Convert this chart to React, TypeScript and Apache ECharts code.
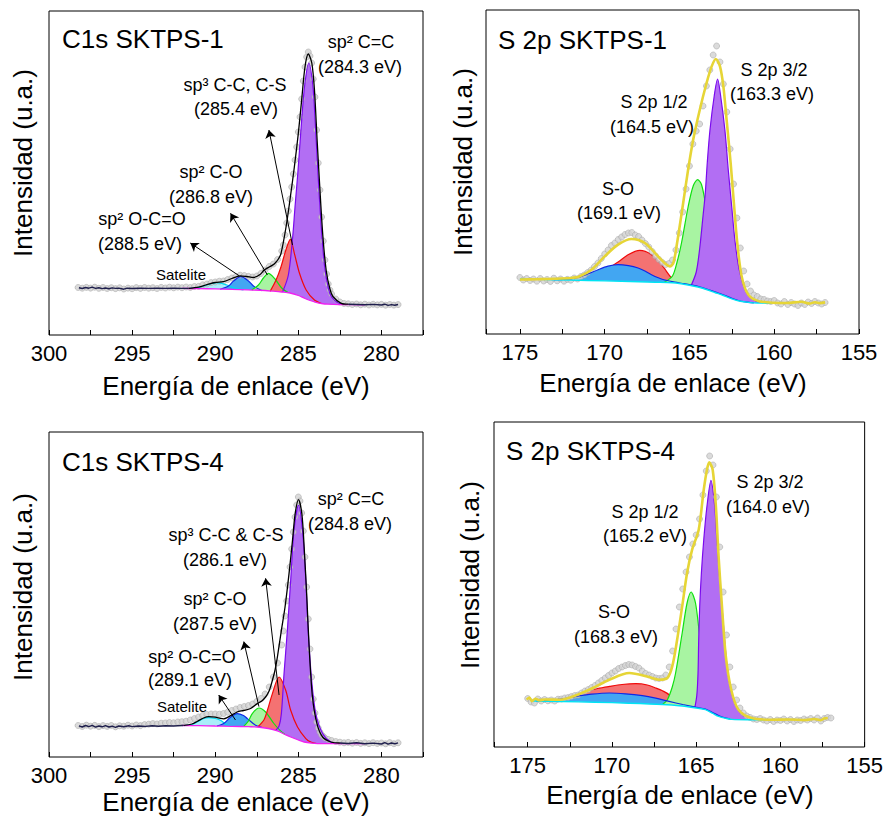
import React, { useEffect, useRef } from "react";
import * as echarts from "echarts";

type Pt = [number, number];

// ---------------- axis ticks ----------------
const C1S_MIN = 277.5;
const C1S_MAX = 300;
const S2P_MIN = 155;
const S2P_MAX = 177;
const TICK_STEP = 2.5;
const LABEL_STEP = 5;

// ---------------- C1s SKTPS-1 ----------------
const C1S1_BG: Pt[] = [[292.0,46.6],[291.0,46.4],[290.0,46.1],[289.0,45.7],[288.0,45.2],[287.0,44.5],[286.5,43.8],[286.0,43.0],[285.5,42.0],[285.0,39.5],[284.6,36.5],[284.2,34.0],[284.0,33.0],[283.6,31.5],[283.2,30.8],[282.5,30.4],[281.0,30.2]];
const C1S1_SAT: Pt[] = [[291.6,46.5],[291.0,47.6],[290.5,50.0],[289.9,52.3],[289.3,50.0],[288.8,46.8],[288.3,45.1]];
const C1S1_BLUE: Pt[] = [[289.7,45.8],[289.2,49.0],[288.9,54.0],[288.46,58.3],[288.0,54.0],[287.7,49.0],[287.2,44.4]];
const C1S1_GREEN: Pt[] = [[287.8,44.9],[287.4,50.0],[287.1,57.0],[286.8,61.7],[286.4,56.0],[286.0,47.0],[285.6,42.2]];
const C1S1_RED: Pt[] = [[286.7,43.6],[286.34,55.0],[286.04,68.3],[285.75,85.0],[285.48,95.7],[285.24,81.7],[284.93,61.7],[284.53,45.0],[284.03,35.0],[283.6,31.5]];
const C1S1_PURPLE: Pt[] = [[285.95,42.9],[285.6,60],[285.34,98],[285.2,128],[285.03,162],[284.83,208],[284.63,248],[284.37,272],[284.13,250],[283.99,215],[283.83,165],[283.63,110],[283.43,70],[283.2,47],[283.0,38],[282.6,32],[282.2,30.5]];
const C1S1_ENV: Pt[] = [[291.6,46.6],[291.0,47.8],[290.5,50.3],[290.0,52.5],[289.5,53.3],[289.0,56.5],[288.5,59.2],[288.1,58.5],[287.7,57.5],[287.3,60.5],[287.05,65.0],[286.75,68.0],[286.45,71.0],[286.2,76.0],[286.04,81.7],[285.74,108],[285.48,138],[285.24,168],[285.0,201.7],[284.8,235],[284.6,268],[284.4,281],[284.19,272],[284.03,245],[283.87,195],[283.7,145],[283.52,98],[283.32,64],[283.1,46],[282.92,38.5],[282.42,31.7],[282.0,30.8]];
const C1S1_RAW_L: Pt[] = [[298.2,47.2],[298.0,46.5],[297.8,47.5],[297.6,46.8],[297.4,47.8],[297.2,46.6],[297.0,47.3],[296.8,46.4],[296.6,47.0],[296.4,46.2],[296.2,47.1],[296.0,46.6],[295.8,46.9],[295.5,45.8],[295.3,46.8],[295.0,46.5],[294.5,46.8],[294.0,46.6],[293.5,46.9],[293.0,46.6],[292.5,46.8],[292.0,46.6],[291.6,46.6]];
const C1S1_RAW_R: Pt[] = [[282.0,30.8],[281.5,30.5],[281.0,30.2],[280.5,30.6],[280.0,30.0],[279.8,30.8],[279.6,29.6],[279.4,30.4],[279.2,29.8],[279.0,30.5]];
const C1S1_DOTS: Pt[] = [[298.25,47.5],[298.0,46.8],[297.75,47.6],[297.5,46.9],[297.25,47.8],[297.0,46.7],[296.75,47.5],[296.5,46.5],[296.25,47.3],[296.0,46.4],[295.75,47.2],[295.5,46.0],[295.25,46.9],[295.0,46.3],[294.75,47.4],[294.5,46.6],[294.25,47.5],[294.0,46.8],[293.75,47.3],[293.5,46.5],[293.25,47.6],[293.0,47.0],[292.75,47.8],[292.5,47.2],[292.25,47.9],[292.0,47.3],[291.75,48.0],[291.5,47.5],[291.25,48.5],[291.0,48.6],[290.75,50.2],[290.5,51.0],[290.25,52.4],[290.0,53.0],[289.75,53.8],[289.5,54.0],[289.25,55.5],[289.0,57.0],[288.75,58.5],[288.5,59.8],[288.25,59.5],[288.0,58.6],[287.75,58.0],[287.5,59.0],[287.25,61.5],[287.0,65.0],[286.75,68.5],[286.5,71.0],[286.25,75.5],[286.0,84.0],[285.9,90],[285.8,100],[285.7,112],[285.6,124],[285.5,136],[285.4,148],[285.3,161],[285.2,175],[285.1,188],[285.0,203],[284.9,218],[284.8,236],[284.7,254],[284.6,268],[284.5,278],[284.4,283],[284.3,279],[284.2,272],[284.1,256],[284.0,238],[283.9,205],[283.8,172],[283.7,145],[283.6,118],[283.5,94],[283.4,75],[283.3,61],[283.2,51],[283.1,45],[283.0,41],[282.75,36],[282.5,33],[282.25,31.5],[282.0,31.2],[281.75,30.5],[281.5,31.0],[281.25,30.2],[281.0,30.8],[280.75,30.0],[280.5,30.7],[280.25,30.1],[280.0,30.6],[279.75,29.8],[279.5,30.5],[279.25,29.9],[279.0,30.4]];

// ---------------- S 2p SKTPS-1 ----------------
const S2P1_BG: Pt[] = [[175.0,55.0],[173.0,54.3],[171.0,53.5],[169.0,52.8],[167.0,51.8],[166.0,51.2],[165.5,50.2],[165.0,48.8],[164.5,47.0],[164.0,44.5],[163.5,41.5],[163.0,38.5],[162.5,35.2],[162.0,32.8],[161.5,31.6],[161.0,31.0],[160.0,30.8],[159.0,30.8]];
const S2P1_BLUE: Pt[] = [[173.0,54.3],[172.0,55.2],[171.57,56.5],[171.0,60.0],[170.39,64.3],[169.8,67.8],[169.21,69.3],[168.6,68.3],[168.03,66.0],[167.6,62.8],[167.24,59.3],[166.8,56.0],[166.45,54.0],[165.86,51.8],[165.3,50.3],[164.5,47.6],[163.5,42.2],[162.5,35.8],[161.8,32.3],[161.2,31.1]];
const S2P1_RED: Pt[] = [[171.8,54.8],[171.0,57.5],[170.4,61.0],[169.8,65.5],[169.21,72.0],[168.62,79.3],[167.93,83.6],[167.24,79.3],[166.65,69.3],[166.06,56.0],[165.76,51.4],[165.4,50.3]];
const S2P1_GREEN: Pt[] = [[166.5,51.5],[166.0,58.0],[165.73,72.0],[165.47,91.0],[165.08,127.0],[164.78,148.0],[164.52,154.3],[164.29,149.5],[164.03,128.0],[163.69,94.0],[163.3,62.0],[162.81,42.0],[162.42,35.3],[162.0,32.9],[161.6,31.7]];
const S2P1_PURPLE: Pt[] = [[164.9,48.4],[164.6,62],[164.4,85],[164.2,118],[164.07,140],[163.95,171],[163.79,204],[163.54,238],[163.34,255],[163.16,238],[162.91,204],[162.71,164],[162.51,128],[162.32,94],[162.06,64],[161.63,41],[161.04,32.6],[160.5,31.0]];
const S2P1_ENV: Pt[] = [[175.0,54.5],[174.0,54.8],[173.0,55.2],[172.0,56.0],[171.5,57.5],[170.78,64.3],[170.0,77.6],[169.21,89.3],[168.42,95.0],[167.63,91.0],[166.85,77.6],[166.4,70.0],[166.16,67.6],[165.95,71.0],[165.73,91.0],[165.37,131.0],[165.08,164.3],[164.78,194.3],[164.39,224.3],[163.99,251.0],[163.69,267.6],[163.44,275.0],[163.2,267.6],[163.0,247.6],[162.81,214.3],[162.57,171.0],[162.38,131.0],[162.18,91.0],[161.92,57.6],[161.53,39.3],[160.84,32.6],[159.26,31.0],[158.4,32.2],[157.9,30.5],[157.6,31.8],[157.3,30.9],[157.0,31.6]];
const S2P1_DOTS: Pt[] = [[175.0,56.5],[174.8,54.0],[174.6,55.5],[174.4,53.5],[174.2,55.0],[174.0,52.8],[173.8,55.5],[173.6,53.0],[173.4,54.5],[173.2,52.5],[173.0,55.8],[172.8,53.2],[172.6,55.0],[172.4,52.8],[172.2,54.6],[172.0,53.8],[171.8,56.0],[171.6,55.0],[171.4,57.5],[171.2,59.0],[171.0,61.5],[170.8,64.0],[170.6,67.5],[170.4,71.0],[170.2,75.5],[170.0,80.0],[169.8,84.0],[169.6,88.5],[169.4,91.0],[169.2,94.5],[169.0,97.0],[168.8,99.5],[168.6,101.0],[168.4,101.5],[168.2,99.0],[168.0,97.5],[167.8,94.0],[167.6,90.5],[167.4,87.0],[167.2,82.5],[167.0,78.0],[166.8,74.5],[166.6,71.5],[166.4,69.5],[166.2,70.5],[166.0,74.0],[165.8,84.0],[165.6,101.0],[165.4,122.0],[165.2,145.0],[165.0,168.0],[164.8,190.0],[164.6,203.0],[164.4,210.0],[164.2,228.0],[164.0,248.0],[163.8,264.0],[163.6,279.0],[163.4,288.0],[163.2,272.0],[163.0,250.0],[162.8,222.0],[162.6,185.0],[162.4,150.0],[162.2,116.0],[162.0,86.0],[161.8,63.0],[161.6,50.0],[161.4,43.0],[161.2,39.0],[161.0,37.5],[160.8,35.0],[160.6,34.5],[160.4,33.0],[160.2,32.5],[160.0,33.5],[159.8,31.0],[159.6,30.0],[159.4,32.5],[159.2,29.5],[159.0,31.5],[158.8,30.0],[158.6,28.5],[158.4,31.0],[158.2,29.5],[158.0,32.0],[157.8,30.5],[157.6,32.5],[157.4,31.0],[157.2,30.0],[157.0,31.5]];

// ---------------- C1s SKTPS-4 ----------------
const C1S4_BG: Pt[] = [[292.0,31.5],[291.0,31.3],[290.0,31.0],[289.0,30.7],[288.0,30.3],[287.47,30.0],[286.8,28.5],[286.26,26.0],[285.8,22.5],[285.46,20.0],[285.0,17.0],[284.65,15.0],[284.2,13.8],[283.84,13.4],[283.0,13.3],[281.0,13.3]];
const C1S4_SAT: Pt[] = [[291.9,31.4],[291.4,32.5],[291.09,35.0],[290.7,38.5],[290.39,39.4],[290.0,38.5],[289.69,36.7],[289.28,32.0],[288.9,30.6]];
const C1S4_BLUE: Pt[] = [[289.9,31.0],[289.49,33.4],[289.1,39.5],[288.68,43.4],[288.3,41.5],[288.07,38.4],[287.57,31.7],[287.2,29.6]];
const C1S4_GREEN: Pt[] = [[288.3,30.4],[288.0,36.0],[287.77,43.4],[287.37,49.0],[286.97,45.0],[286.47,33.5],[286.1,26.6],[285.8,22.6]];
const C1S4_RED: Pt[] = [[287.45,30.0],[287.07,37.0],[286.86,46.7],[286.56,63.4],[286.16,80.0],[285.76,66.7],[285.46,46.7],[285.05,30.0],[284.55,18.4],[284.25,15.0],[283.9,13.5]];
const C1S4_PURPLE: Pt[] = [[286.35,26.8],[286.16,31.0],[286.02,43.4],[285.86,83.4],[285.66,126.7],[285.46,176.7],[285.26,226.7],[284.99,251.7],[284.75,226.7],[284.55,176.7],[284.41,126.7],[284.2,76.7],[283.95,43.4],[283.54,23.4],[283.04,15.0],[282.6,13.5]];
const C1S4_ENV: Pt[] = [[291.9,31.6],[291.4,33.0],[291.09,35.5],[290.7,39.0],[290.39,40.3],[290.0,39.8],[289.69,38.6],[289.5,38.2],[289.28,39.4],[288.68,45.0],[288.3,46.5],[287.87,48.5],[287.47,53.4],[287.2,56.0],[286.97,60.0],[286.76,66.0],[286.56,76.7],[286.4,87.0],[286.26,100.0],[286.02,126.7],[285.8,150.0],[285.56,183.4],[285.35,216.7],[285.19,243.4],[284.99,257.4],[284.79,243.4],[284.65,210.0],[284.49,160.0],[284.35,110.0],[284.15,60.0],[283.88,33.4],[283.54,20.0],[283.04,15.0],[282.5,14.0]];
const C1S4_RAW_L: Pt[] = [[298.2,31.2],[298.0,30.0],[297.8,31.5],[297.6,30.4],[297.4,31.7],[297.2,29.8],[297.0,31.0],[296.8,30.2],[296.6,31.3],[296.4,30.0],[296.2,30.8],[296.0,29.6],[295.8,31.0],[295.5,30.2],[295.2,31.2],[295.0,30.4],[294.6,31.0],[294.2,30.6],[293.8,31.2],[293.4,30.8],[293.0,31.3],[292.5,31.0],[292.0,31.5],[291.9,31.6]];
const C1S4_RAW_R: Pt[] = [[282.5,14.0],[282.0,13.5],[281.5,14.2],[281.0,13.2],[280.5,13.9],[280.0,13.0],[279.8,14.4],[279.6,12.8],[279.4,14.0],[279.2,13.2],[279.0,14.2]];
const C1S4_DOTS: Pt[] = [[298.25,31.5],[298.0,30.5],[297.75,31.8],[297.5,30.8],[297.25,31.6],[297.0,30.4],[296.75,31.4],[296.5,30.6],[296.25,31.5],[296.0,30.2],[295.75,31.2],[295.5,30.8],[295.25,31.8],[295.0,31.0],[294.75,32.0],[294.5,31.4],[294.25,32.4],[294.0,32.8],[293.75,33.4],[293.5,33.0],[293.25,33.8],[293.0,34.0],[292.75,34.5],[292.5,34.2],[292.25,35.0],[292.0,35.3],[291.75,35.8],[291.5,37.0],[291.25,38.5],[291.0,40.0],[290.75,41.5],[290.5,42.5],[290.25,43.0],[290.0,43.0],[289.75,42.8],[289.5,43.5],[289.25,44.8],[289.0,46.5],[288.75,48.0],[288.5,49.5],[288.25,50.5],[288.0,51.5],[287.75,53.0],[287.5,55.5],[287.25,58.5],[287.0,63.0],[286.75,70.0],[286.5,80.0],[286.25,94.0],[286.0,112.0],[285.9,126],[285.8,141],[285.7,156],[285.6,172],[285.5,190],[285.4,208],[285.3,225],[285.2,240],[285.1,252],[285.0,260],[284.9,256],[284.8,244],[284.7,226],[284.6,200],[284.5,170],[284.4,138],[284.3,108],[284.2,80],[284.1,58],[284.0,44],[283.9,35],[283.8,29],[283.7,25],[283.6,22],[283.5,20.5],[283.4,19],[283.2,17.5],[283.0,16.5],[282.75,15.5],[282.5,14.8],[282.25,14.2],[282.0,14.6],[281.75,13.8],[281.5,14.5],[281.25,13.6],[281.0,14.2],[280.75,13.4],[280.5,14.3],[280.25,13.5],[280.0,14.0],[279.75,13.2],[279.5,14.4],[279.25,13.3],[279.0,14.2]];

// ---------------- S 2p SKTPS-4 ----------------
const S2P4_BG: Pt[] = [[174.8,46.1],[174.5,46.0],[173.0,45.5],[171.0,44.8],[169.0,43.8],[167.0,42.5],[166.0,41.3],[165.0,39.0],[164.45,37.3],[164.0,33.5],[163.67,30.6],[163.2,28.5],[162.88,27.6],[162.0,27.3],[160.0,27.3]];
const S2P4_BLUE: Pt[] = [[174.5,46.0],[174.08,46.3],[173.0,48.0],[172.11,50.6],[171.2,52.8],[170.15,54.0],[169.2,53.2],[168.19,51.3],[167.4,48.8],[166.61,45.6],[165.8,42.5],[165.04,39.8],[164.45,37.9],[164.0,34.3],[163.5,30.2],[163.0,28.2]];
const S2P4_RED: Pt[] = [[172.6,49.0],[171.52,55.6],[170.85,58.5],[170.15,60.6],[169.4,62.5],[168.58,63.3],[167.9,62.0],[167.4,59.0],[167.0,56.2],[166.61,52.3],[166.32,45.6],[166.1,42.4],[165.8,42.0]];
const S2P4_GREEN: Pt[] = [[167.0,42.5],[166.71,47.3],[166.42,60.0],[166.22,74.0],[165.83,114.0],[165.54,144.0],[165.3,155.0],[165.04,144.0],[164.81,114.0],[164.45,74.0],[164.06,47.3],[163.57,32.3],[163.2,28.8]];
const S2P4_PURPLE: Pt[] = [[165.08,39.3],[164.96,52.0],[164.89,74.0],[164.85,107.0],[164.79,140.6],[164.69,174.0],[164.55,207.3],[164.36,240.6],[164.12,266.6],[163.9,240.6],[163.77,207.3],[163.63,174.0],[163.47,140.6],[163.31,107.3],[163.12,74.0],[162.78,47.3],[162.29,32.3],[161.71,27.5]];
const S2P4_ENV: Pt[] = [[175.06,47.3],[174.9,49.5],[174.75,45.8],[174.55,48.2],[174.3,46.8],[174.0,47.5],[173.1,47.3],[172.0,52.5],[171.13,59.0],[170.15,67.3],[168.97,74.0],[167.79,70.0],[167.2,67.3],[166.71,69.0],[166.42,80.6],[166.13,107.3],[165.83,140.6],[165.54,174.0],[165.24,197.3],[164.85,217.3],[164.55,257.3],[164.36,277.3],[164.22,284.6],[164.02,277.3],[163.83,240.6],[163.67,190.6],[163.47,140.6],[163.24,90.6],[162.92,57.3],[162.49,37.3],[161.71,29.0],[160.53,27.3],[159.5,27.5],[158.5,27.0],[158.0,28.0],[157.6,26.8],[157.4,28.5],[157.19,29.0]];
const S2P4_DOTS: Pt[] = [[175.0,48.5],[174.8,45.0],[174.6,44.0],[174.4,48.0],[174.2,46.0],[174.0,47.5],[173.8,46.2],[173.6,47.0],[173.4,46.0],[173.2,47.8],[173.0,48.0],[172.8,49.0],[172.6,49.5],[172.4,50.5],[172.2,51.5],[172.0,52.0],[171.8,54.0],[171.6,56.0],[171.4,57.5],[171.2,59.5],[171.0,61.5],[170.8,64.0],[170.6,66.5],[170.4,69.0],[170.2,71.5],[170.0,74.0],[169.8,76.0],[169.6,78.5],[169.4,80.0],[169.2,81.5],[169.0,82.5],[168.8,82.0],[168.6,80.5],[168.4,79.0],[168.2,76.0],[168.0,73.5],[167.8,72.0],[167.6,70.5],[167.4,69.0],[167.2,68.5],[167.0,69.0],[166.8,72.0],[166.6,80.0],[166.4,96.0],[166.2,118.0],[166.0,140.0],[165.8,158.0],[165.6,175.0],[165.4,190.0],[165.2,203.0],[165.0,212.0],[164.8,228.0],[164.6,252.0],[164.4,276.0],[164.2,291.0],[164.0,282.0],[163.8,250.0],[163.6,200.0],[163.4,155.0],[163.2,112.0],[163.0,80.0],[162.8,60.0],[162.6,47.0],[162.4,39.0],[162.2,34.0],[162.0,31.0],[161.8,29.5],[161.6,28.0],[161.4,27.5],[161.2,28.5],[161.0,27.0],[160.8,26.0],[160.6,27.5],[160.4,25.5],[160.2,27.0],[160.0,26.5],[159.8,28.0],[159.6,26.0],[159.4,27.5],[159.2,25.5],[159.0,27.0],[158.8,26.5],[158.6,28.0],[158.4,27.0],[158.2,28.5],[158.0,27.0],[157.8,29.0],[157.6,26.0],[157.4,28.5],[157.2,29.5],[157.0,29.0]];

// annotation arrows (data coordinates: tail at peak, head at label)
const C1S1_ARROWS: [Pt, Pt][] = [[[288.54,59],[291.5,92]],[[286.86,60],[289.08,121.7]],[[285.35,90],[286.77,205]]];
const C1S4_ARROWS: [Pt, Pt][] = [[[288.78,37],[289.79,62]],[[287.37,50.4],[288.28,115.4]],[[286.16,62],[286.97,178.7]]];

// ---------------- layout / style ----------------
const FONT = '"Liberation Sans", Arial, Helvetica, sans-serif';
const GRIDS = [
  { left: 49, top: 11, width: 374, height: 324 },
  { left: 486, top: 10, width: 373, height: 324 },
  { left: 49, top: 432, width: 374, height: 325 },
  { left: 494, top: 422, width: 373, height: 325 },
];
const SM = 0.3;

const COL = {
  satFill: "#A9EEFA", satLine: "#00D8F0",
  blueFill: "#42A6F2", blueLine: "#1028E6",
  greenFill: "#A8F4A2", greenLine: "#10E010",
  redFill: "#F47272", redLine: "#F00A0A",
  purpleFill: "#B26EF3", purpleLine: "#7A0AEE",
  bgC: "#F020F0", bgS: "#00E4F4",
  envC: "#000000", envS: "#E6D536",
  raw: "#1E1E4C",
};

// filled component; each gets its own z so that a later fill covers an earlier outline
function fill(g: number, data: Pt[], color: string, order: number, lineColor?: string) {
  return { type: "line", xAxisIndex: g, yAxisIndex: g, data, smooth: SM, symbol: "none", silent: true, z: 1 + order * 0.1,
    lineStyle: lineColor ? { color: lineColor, width: 1.2 } : { width: 0, opacity: 0 },
    areaStyle: { color, opacity: 1, origin: "start" } };
}
function mask(g: number, data: Pt[]) {
  return { type: "line", xAxisIndex: g, yAxisIndex: g, data, smooth: SM, symbol: "none", silent: true, z: 2,
    lineStyle: { width: 0, opacity: 0 }, areaStyle: { color: "#ffffff", opacity: 1, origin: "start" } };
}
function dots(g: number, data: Pt[]) {
  return { type: "scatter", xAxisIndex: g, yAxisIndex: g, data, symbol: "circle", symbolSize: 6, silent: true, z: 3,
    itemStyle: { color: "#D2D2D2", borderColor: "#A6A6A6", borderWidth: 0.7 } };
}
function line(g: number, data: Pt[], color: string, width: number, z = 4, smooth: number | boolean = SM, extra: any = {}) {
  return { type: "line", xAxisIndex: g, yAxisIndex: g, data, smooth, symbol: "none", silent: true, z,
    lineStyle: { color, width }, ...extra };
}
function arrows(list: [Pt, Pt][]) {
  return {
    silent: true, symbol: ["none", "arrow"], symbolSize: 8, animation: false,
    label: { show: false }, lineStyle: { color: "#000", width: 1, type: "solid" },
    emphasis: { disabled: true },
    data: list.map(([a, b]) => [{ coord: a }, { coord: b }]),
  };
}

function xAxis(g: number, min: number, max: number) {
  return {
    gridIndex: g, type: "value", inverse: true, min, max, interval: TICK_STEP, z: 10,
    axisLine: { show: false },
    axisTick: { show: true, inside: true, length: 5, lineStyle: { color: "#000", width: 1 } },
    axisLabel: {
      show: true, margin: 7, fontSize: 22, color: "#000", fontFamily: FONT, showMinLabel: true, showMaxLabel: true,
      formatter: (v: number) => { const r = Math.abs(v % LABEL_STEP); return r < 0.01 || r > LABEL_STEP - 0.01 ? String(Math.round(v)) : ""; },
    },
    splitLine: { show: false },
  };
}
function yAxis(g: number) {
  return { gridIndex: g, type: "value", min: 0, max: GRIDS[g].height, axisLine: { show: false }, axisTick: { show: false }, axisLabel: { show: false }, splitLine: { show: false } };
}

type T = { t: string; x: number; y: number; s: number; a?: string; r?: number };
const TEXTS: T[] = [
  // panel 1
  { t: "C1s SKTPS-1", x: 62, y: 39, s: 26, a: "left" },
  { t: "sp² C=C", x: 361, y: 42, s: 18 },
  { t: "(284.3 eV)", x: 360, y: 67, s: 18 },
  { t: "sp³ C-C, C-S", x: 235, y: 85, s: 18 },
  { t: "(285.4 eV)", x: 236, y: 109, s: 18 },
  { t: "sp² C-O", x: 211, y: 172, s: 18 },
  { t: "(286.8 eV)", x: 211, y: 197, s: 18 },
  { t: "sp² O-C=O", x: 142, y: 219, s: 18 },
  { t: "(288.5 eV)", x: 140, y: 244, s: 18 },
  { t: "Satelite", x: 181, y: 274, s: 15 },
  { t: "Energía de enlace (eV)", x: 236, y: 386, s: 26 },
  { t: "Intensidad (u.a.)", x: 23, y: 163, s: 26, r: 90 },
  // panel 2
  { t: "S 2p SKTPS-1", x: 498, y: 40, s: 26, a: "left" },
  { t: "S 2p 3/2", x: 774, y: 70, s: 18 },
  { t: "(163.3 eV)", x: 772, y: 94, s: 18 },
  { t: "S 2p 1/2", x: 654, y: 102, s: 18 },
  { t: "(164.5 eV)", x: 652, y: 127, s: 18 },
  { t: "S-O", x: 618, y: 189, s: 18 },
  { t: "(169.1 eV)", x: 619, y: 213, s: 18 },
  { t: "Energía de enlace (eV)", x: 673, y: 383, s: 26 },
  { t: "Intensidad (u.a.)", x: 463, y: 162, s: 26, r: 90 },
  // panel 3
  { t: "C1s SKTPS-4", x: 62, y: 462, s: 26, a: "left" },
  { t: "sp² C=C", x: 351, y: 499, s: 18 },
  { t: "(284.8 eV)", x: 350, y: 524, s: 18 },
  { t: "sp³ C-C & C-S", x: 226, y: 535, s: 18 },
  { t: "(286.1 eV)", x: 225, y: 560, s: 18 },
  { t: "sp² C-O", x: 215, y: 599, s: 18 },
  { t: "(287.5 eV)", x: 215, y: 624, s: 18 },
  { t: "sp² O-C=O", x: 192, y: 657, s: 18 },
  { t: "(289.1 eV)", x: 190, y: 680, s: 18 },
  { t: "Satelite", x: 182, y: 706, s: 15 },
  { t: "Energía de enlace (eV)", x: 236, y: 802, s: 26 },
  { t: "Intensidad (u.a.)", x: 23, y: 587, s: 26, r: 90 },
  // panel 4
  { t: "S 2p SKTPS-4", x: 506, y: 451, s: 26, a: "left" },
  { t: "S 2p 3/2", x: 770, y: 482, s: 18 },
  { t: "(164.0 eV)", x: 768, y: 507, s: 18 },
  { t: "S 2p 1/2", x: 645, y: 512, s: 18 },
  { t: "(165.2 eV)", x: 645, y: 536, s: 18 },
  { t: "S-O", x: 614, y: 612, s: 18 },
  { t: "(168.3 eV)", x: 616, y: 637, s: 18 },
  { t: "Energía de enlace (eV)", x: 680, y: 795, s: 26 },
  { t: "Intensidad (u.a.)", x: 470, y: 575, s: 26, r: 90 },
];

function buildOption() {
  const series: any[] = [
    // panel 1
    fill(0, C1S1_SAT, COL.satFill, 0), fill(0, C1S1_BLUE, COL.blueFill, 1), fill(0, C1S1_GREEN, COL.greenFill, 2),
    fill(0, C1S1_RED, COL.redFill, 3), fill(0, C1S1_PURPLE, COL.purpleFill, 4), mask(0, C1S1_BG), dots(0, C1S1_DOTS),
    line(0, C1S1_SAT, COL.satLine, 1.2), line(0, C1S1_BLUE, COL.blueLine, 1.2), line(0, C1S1_GREEN, COL.greenLine, 1.2),
    line(0, C1S1_RED, COL.redLine, 1.2), line(0, C1S1_PURPLE, COL.purpleLine, 1.2), line(0, C1S1_BG, COL.bgC, 1.3),
    line(0, C1S1_RAW_L, COL.raw, 1.4, 5, false), line(0, C1S1_RAW_R, COL.raw, 1.4, 5, false),
    line(0, C1S1_ENV, COL.envC, 1.3, 5, SM, { markLine: arrows(C1S1_ARROWS) }),
    // panel 2
    fill(1, S2P1_RED, COL.redFill, 0, COL.redLine), fill(1, S2P1_BLUE, COL.blueFill, 1), fill(1, S2P1_GREEN, COL.greenFill, 2, COL.greenLine),
    fill(1, S2P1_PURPLE, COL.purpleFill, 3, COL.purpleLine), mask(1, S2P1_BG), dots(1, S2P1_DOTS),
    line(1, S2P1_BLUE, COL.blueLine, 1.2), line(1, S2P1_BG, COL.bgS, 1.4),
    line(1, S2P1_ENV, COL.envS, 2.6, 5),
    // panel 3
    fill(2, C1S4_SAT, COL.satFill, 0), fill(2, C1S4_BLUE, COL.blueFill, 1), fill(2, C1S4_GREEN, COL.greenFill, 2),
    fill(2, C1S4_RED, COL.redFill, 3), fill(2, C1S4_PURPLE, COL.purpleFill, 4), mask(2, C1S4_BG), dots(2, C1S4_DOTS),
    line(2, C1S4_SAT, COL.satLine, 1.2), line(2, C1S4_BLUE, COL.blueLine, 1.2), line(2, C1S4_GREEN, COL.greenLine, 1.2),
    line(2, C1S4_RED, COL.redLine, 1.2), line(2, C1S4_PURPLE, COL.purpleLine, 1.2), line(2, C1S4_BG, COL.bgC, 1.3),
    line(2, C1S4_RAW_L, COL.raw, 1.4, 5, false), line(2, C1S4_RAW_R, COL.raw, 1.4, 5, false),
    line(2, C1S4_ENV, COL.envC, 1.3, 5, SM, { markLine: arrows(C1S4_ARROWS) }),
    // panel 4
    fill(3, S2P4_RED, COL.redFill, 0, COL.redLine), fill(3, S2P4_BLUE, COL.blueFill, 1), fill(3, S2P4_GREEN, COL.greenFill, 2, COL.greenLine),
    fill(3, S2P4_PURPLE, COL.purpleFill, 3, COL.purpleLine), mask(3, S2P4_BG), dots(3, S2P4_DOTS),
    line(3, S2P4_BLUE, COL.blueLine, 1.2), line(3, S2P4_BG, COL.bgS, 1.4),
    line(3, S2P4_ENV, COL.envS, 2.6, 5),
  ];

  return {
    animation: false,
    backgroundColor: "#ffffff",
    grid: GRIDS.map((g) => ({ ...g, show: true, borderColor: "#000", borderWidth: 1, backgroundColor: "transparent", z: 10 })),
    xAxis: [xAxis(0, C1S_MIN, C1S_MAX), xAxis(1, S2P_MIN, S2P_MAX), xAxis(2, C1S_MIN, C1S_MAX), xAxis(3, S2P_MIN, S2P_MAX)],
    yAxis: [yAxis(0), yAxis(1), yAxis(2), yAxis(3)],
    series,
    graphic: {
      elements: TEXTS.map((t) => ({
        type: "text", x: t.x, y: t.y, z: 100, silent: true,
        rotation: t.r ? (t.r * Math.PI) / 180 : 0,
        style: {
          text: t.t, fontSize: t.s, fontFamily: FONT, fill: "#000",
          align: t.a || "center", verticalAlign: "middle",
          textAlign: t.a || "center", textVerticalAlign: "middle",
        },
      })),
    },
  };
}

export default function App() {
  const ref = useRef<HTMLDivElement>(null);
  useEffect(() => {
    if (!ref.current) return;
    const chart = echarts.init(ref.current, null, { renderer: "svg" });
    chart.setOption(buildOption() as any);
    return () => chart.dispose();
  }, []);
  return <div ref={ref} style={{ position: "absolute", left: 0, top: 0, width: 886, height: 817, background: "#fff" }} />;
}
